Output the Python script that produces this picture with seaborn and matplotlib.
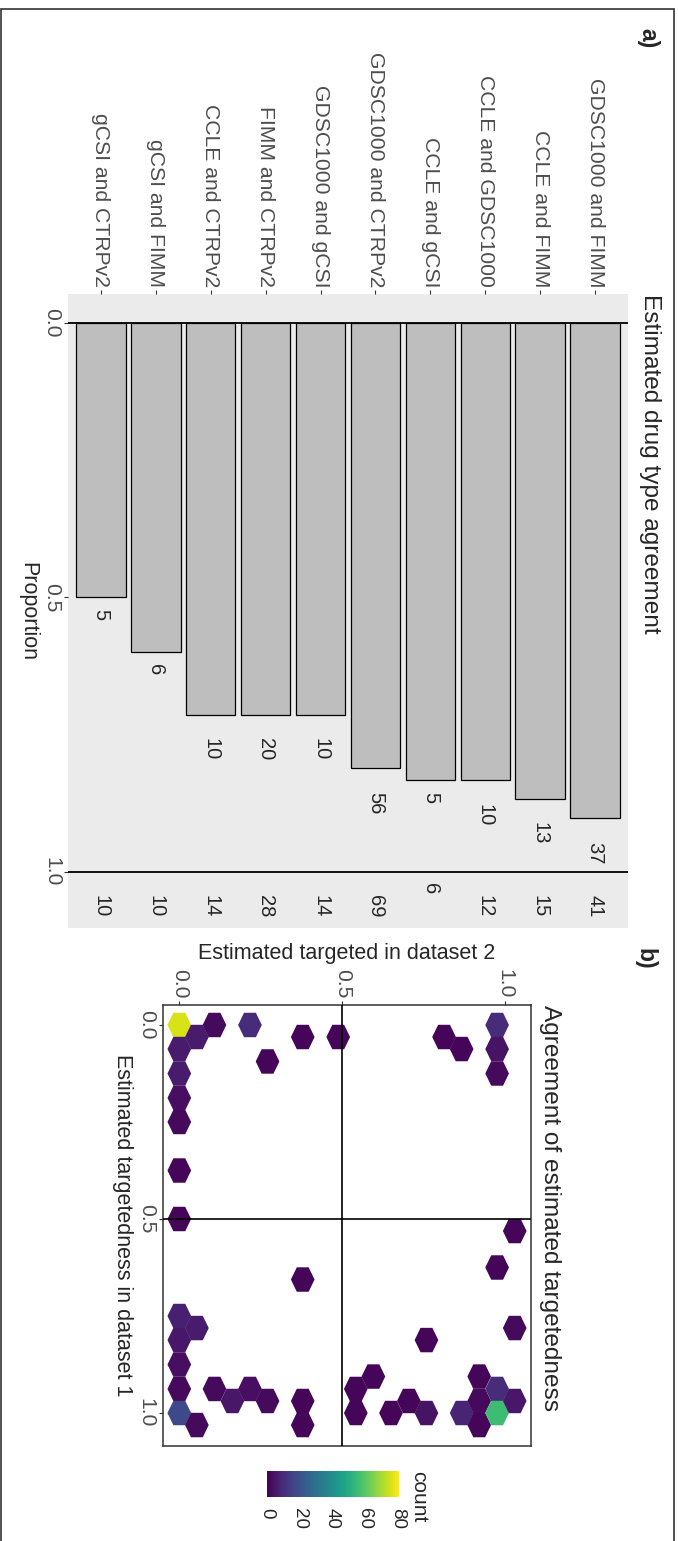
import numpy as np
import pandas as pd
import matplotlib
matplotlib.use("Agg")
import matplotlib.pyplot as plt
import seaborn as sns
from matplotlib.patches import Rectangle
from matplotlib.colors import Normalize
from matplotlib.cm import ScalarMappable

# ---------------- data ----------------
pairs = ["gCSI and CTRPv2", "gCSI and FIMM", "CCLE and CTRPv2", "FIMM and CTRPv2",
         "GDSC1000 and gCSI", "GDSC1000 and CTRPv2", "CCLE and gCSI",
         "CCLE and GDSC1000", "CCLE and FIMM", "GDSC1000 and FIMM"]
n_agree = [5, 6, 10, 20, 10, 56, 5, 10, 13, 37]
n_total = [10, 10, 14, 28, 14, 69, 6, 12, 15, 41]
prop_ticks = [0.0, 0.5, 1.0]
prop_ticklabels = ["0.0", "0.5", "1.0"]

# hexagon bin centres (dataset 1 targetedness, dataset 2 targetedness) and counts
hex_d1 = [0.000, 0.062, 0.125, 0.188, 0.250, 0.375, 0.500,
          0.031, 0.000, 0.000, 0.094, 0.031, 0.031, 0.031, 0.062,
          0.000, 0.062, 0.125, 0.531,
          0.750, 0.812, 0.875, 0.938, 1.000,
          0.781, 1.031, 0.938, 0.969, 0.938, 0.969,
          0.656, 0.969, 1.031,
          0.938, 1.000, 0.906, 1.000, 0.969, 0.812, 1.000,
          1.000, 0.906, 0.969, 1.031,
          0.625, 0.938, 1.000,
          0.781, 0.969]
hex_d2 = [0.000, 0.000, 0.000, 0.000, 0.000, 0.000, 0.000,
          0.054, 0.108, 0.217, 0.271, 0.379, 0.488, 0.813, 0.867,
          0.976, 0.976, 0.976, 1.030,
          0.000, 0.000, 0.000, 0.000, 0.000,
          0.054, 0.054, 0.108, 0.163, 0.217, 0.271,
          0.379, 0.379, 0.379,
          0.542, 0.542, 0.596, 0.650, 0.705, 0.759, 0.759,
          0.867, 0.921, 0.921, 0.921,
          0.976, 0.976, 0.976,
          1.030, 1.030]
hex_count = [76, 6, 6, 3, 2, 1, 1,
             6, 2, 10, 1, 1, 1, 1, 1,
             10, 4, 2, 1,
             7, 5, 3, 2, 18,
             6, 2, 2, 5, 3, 2,
             1, 1, 1,
             1, 1, 1, 1, 1, 1, 4,
             8, 1, 2, 1,
             1, 10, 56,
             2, 5]
count_ticks = [0, 20, 40, 60, 80]

# ---------------- style ----------------
sns.set_style("white")
plt.rcParams["font.family"] = ["Liberation Sans", "DejaVu Sans"]

W, H = 678, 1541
fig = plt.figure(figsize=(W / 100, H / 100), dpi=100)
GREY_TXT = "#4D4D4D"
AX_TXT = 15.2

# ---------------- panel a ----------------
axa = fig.add_axes([68 / W, 1 - 928 / H, 560 / W, 634 / H])
dfa = pd.DataFrame({"pair": pairs, "agree": n_agree, "total": n_total})
dfa["prop"] = dfa["agree"] / dfa["total"]
sns.barplot(data=dfa, x="pair", y="prop", order=pairs, color="#BEBEBE",
            saturation=1, edgecolor="black", linewidth=0.9, width=0.9, ax=axa)
axa.set_facecolor("#EBEBEB")
axa.set_xlim(-0.6, 9.6)
axa.set_ylim(1.1025, -0.0525)
for sp in axa.spines.values():
    sp.set_visible(False)
axa.axhline(0, color="black", lw=1.3, zorder=4)
axa.axhline(1, color="black", lw=1.3, zorder=4)

axa.xaxis.tick_top()
axa.set_xticks(range(len(pairs)))
axa.set_xticklabels(pairs, rotation=270, color=GREY_TXT, fontsize=AX_TXT)
axa.set_xlabel("")
axa.set_yticks(prop_ticks)
axa.set_yticklabels(prop_ticklabels, rotation=270, va="center", color=GREY_TXT, fontsize=AX_TXT)
axa.tick_params(axis="both", length=3, width=0.8, color="#333333", pad=2)
axa.tick_params(axis="x", top=True, bottom=False, labeltop=True, labelbottom=False)
axa.tick_params(axis="y", left=True)
axa.set_ylabel("Proportion", rotation=270, fontsize=15.5, va="center", ha="center")
axa.yaxis.set_label_coords(-0.0714, 0.5)

for i, (a, t, p) in enumerate(zip(dfa["agree"], dfa["total"], dfa["prop"])):
    axa.annotate(str(a), xy=(i, p), xytext=(0, -12.5 * len(str(a))),
                 textcoords="offset points", rotation=270, ha="center", va="center",
                 fontsize=14.5)
    axa.annotate(str(t), xy=(i, 1.0), xytext=(0, -12.5 * len(str(t))),
                 textcoords="offset points", rotation=270, ha="center", va="center",
                 fontsize=14.5)

fig.text(650 / W, 1 - 294 / H, "Estimated drug type agreement", rotation=270,
         ha="center", va="top", fontsize=17.6)

# ---------------- panel b ----------------
axb = fig.add_axes([162.7 / W, 1 - 1446 / H, 368.3 / W, 441 / H])
dfb = pd.DataFrame({"d1": hex_d1, "d2": hex_d2, "count": hex_count})
hexv = [(1, 0), (0.5, 1.032), (-0.5, 1.032), (-1, 0), (-0.5, -1.032), (0.5, -1.032)]
sns.scatterplot(data=dfb, x="d2", y="d1", hue="count", palette="viridis",
                hue_norm=(0, 81), marker=hexv, s=310, linewidth=0,
                legend=False, ax=axb, zorder=2)
axb.set_xlim(-0.051, 1.080)
axb.set_ylim(1.085, -0.0515)
axb.axvline(0.5, color="black", lw=1.2, zorder=3)
axb.axhline(0.5, color="black", lw=1.2, zorder=3)
for sp in axb.spines.values():
    sp.set_visible(True)
    sp.set_color("#333333")
    sp.set_linewidth(1.1)

axb.xaxis.tick_top()
axb.xaxis.set_label_position("top")
axb.set_xticks(prop_ticks)
axb.set_xticklabels(prop_ticklabels, rotation=270, color=GREY_TXT, fontsize=AX_TXT)
axb.set_yticks(prop_ticks)
axb.set_yticklabels(prop_ticklabels, rotation=270, va="center", color=GREY_TXT, fontsize=AX_TXT)
axb.tick_params(axis="both", length=3, width=0.8, color="#333333", pad=2)
axb.tick_params(axis="x", top=True, bottom=False, labeltop=True, labelbottom=False)
axb.tick_params(axis="y", left=True)
axb.set_xlabel("Estimated targeted in dataset 2", fontsize=15.5)
axb.xaxis.label.set_va("center")
axb.xaxis.set_label_coords(0.5, (1446 - 953) / 441)
axb.set_ylabel("Estimated targetedness in dataset 1", rotation=270, fontsize=15.5,
               va="center", ha="center")
axb.yaxis.set_label_coords((122 - 162.7) / 368.3, 0.5)

fig.text(550 / W, 1 - 1005 / H, "Agreement of estimated targetedness", rotation=270,
         ha="center", va="top", fontsize=17.6)

# colourbar
cax = fig.add_axes([267 / W, 1 - 1497 / H, 132 / W, 26 / H])
sm = ScalarMappable(norm=Normalize(0, 81), cmap="viridis")
cb = fig.colorbar(sm, cax=cax, orientation="horizontal", ticks=count_ticks)
cb.outline.set_visible(False)
cax.tick_params(axis="x", direction="in", color="white", length=5, width=1,
                top=True, bottom=True, pad=8)
cax.set_xticklabels([str(t) for t in count_ticks], rotation=270, fontsize=13.5)
cax.text(1.08, 1.0, "count", transform=cax.transAxes, rotation=270,
         ha="left", va="top", fontsize=15)

# panel letters and frame
fig.text(648 / W, 1 - 28 / H, "a)", fontweight="bold", rotation=270,
         ha="center", va="top", fontsize=16.5)
fig.text(645 / W, 1 - 948 / H, "b)", fontweight="bold", rotation=270,
         ha="center", va="top", fontsize=16.5)
fig.patches.append(Rectangle((1 / W, -0.01), 673 / W, (H - 9) / H + 0.01,
                             transform=fig.transFigure, fill=False,
                             edgecolor="#333333", lw=1.2))

fig.savefig("out.png", dpi=100)
